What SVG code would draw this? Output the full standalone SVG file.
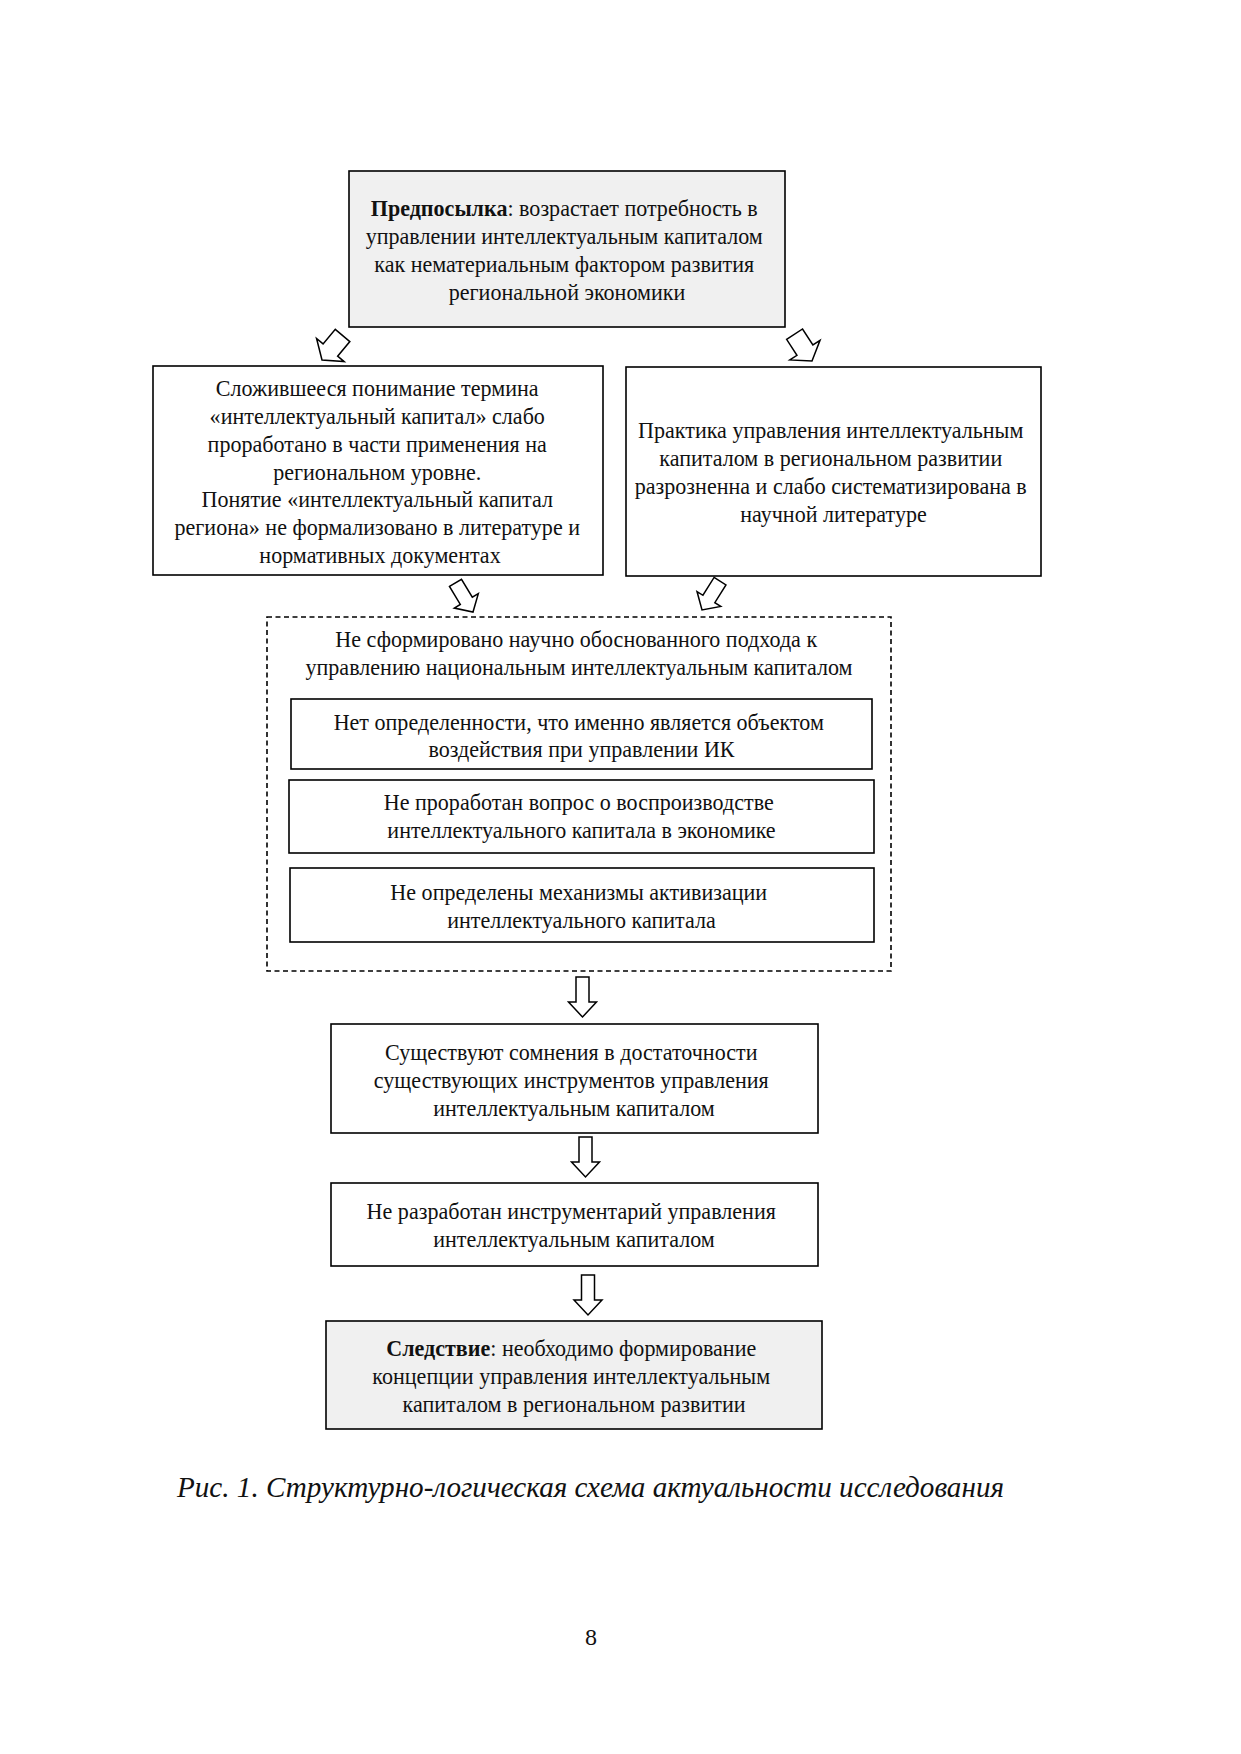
<svg xmlns="http://www.w3.org/2000/svg" width="1241" height="1754" viewBox="0 0 1241 1754">
<style>
.box{fill:#ffffff;stroke:#000;stroke-width:1.6}
.gray{fill:#f0f0f0;stroke:#000;stroke-width:1.6}
.dash{fill:none;stroke:#000;stroke-width:1.6;stroke-dasharray:5 3.5}
.t{font-family:"Liberation Serif","Times New Roman",serif;font-size:24px;fill:#111;text-anchor:middle}
.b{font-weight:bold}
.arr{fill:#fff;stroke:#000;stroke-width:1.5;stroke-linejoin:miter}
.cap{font-family:"Liberation Serif","Times New Roman",serif;font-size:29px;font-style:italic;fill:#111}
</style>
<defs>
<polygon id="big" points="-9.5,-32 9.5,-32 9.5,-13 18,-13 0,0 -18,-13 -9.5,-13"/>
<polygon id="mid" points="-7,-34 7,-34 7,-13 14,-13 0,0 -14,-13 -7,-13"/>
<polygon id="down" points="-6.5,-40 6.5,-40 6.5,-15 14,-15 0,0 -14,-15 -6.5,-15"/>
</defs>
<rect width="1241" height="1754" fill="#fff"/>

<g id="premise">
<rect class="gray" x="349" y="171" width="436" height="156"/>
<text class="t" transform="matrix(0.92 0 0 1 567 0)">
<tspan x="0" y="216"><tspan class="b">Предпосылка</tspan>: возрастает потребность в</tspan>
<tspan x="0" y="244">управлении интеллектуальным капиталом</tspan>
<tspan x="0" y="272">как нематериальным фактором развития</tspan>
<tspan x="0" y="300">региональной экономики</tspan>
</text>
</g>

<g id="understanding">
<rect class="box" x="153" y="366" width="450" height="209"/>
<text class="t" transform="matrix(0.92 0 0 1 380 0)">
<tspan x="0" y="396">Сложившееся понимание термина</tspan>
<tspan x="0" y="424">«интеллектуальный капитал» слабо</tspan>
<tspan x="0" y="452">проработано в части применения на</tspan>
<tspan x="0" y="480">региональном уровне.</tspan>
<tspan x="0" y="507">Понятие «интеллектуальный капитал</tspan>
<tspan x="0" y="535">региона» не формализовано в литературе и</tspan>
<tspan x="0" y="563">нормативных документах</tspan>
</text>
</g>

<g id="practice">
<rect class="box" x="626" y="367" width="415" height="209"/>
<text class="t" transform="matrix(0.92 0 0 1 833.5 0)">
<tspan x="0" y="438">Практика управления интеллектуальным</tspan>
<tspan x="0" y="466">капиталом в региональном развитии</tspan>
<tspan x="0" y="494">разрозненна и слабо систематизирована в</tspan>
<tspan x="0" y="522">научной литературе</tspan>
</text>
</g>

<g id="approach">
<rect class="dash" x="267" y="617" width="624" height="354"/>
<text class="t" transform="matrix(0.92 0 0 1 579 0)">
<tspan x="0" y="647">Не сформировано научно обоснованного подхода к</tspan>
<tspan x="0" y="675">управлению национальным интеллектуальным капиталом</tspan>
</text>
</g>

<g id="object">
<rect class="box" x="291" y="699" width="581" height="70"/>
<text class="t" transform="matrix(0.92 0 0 1 581.5 0)">
<tspan x="0" y="730">Нет определенности, что именно является объектом</tspan>
<tspan x="0" y="757">воздействия при управлении ИК</tspan>
</text>
</g>

<g id="reproduction">
<rect class="box" x="289" y="780" width="585" height="73"/>
<text class="t" transform="matrix(0.92 0 0 1 581.5 0)">
<tspan x="0" y="810">Не проработан вопрос о воспроизводстве</tspan>
<tspan x="0" y="838">интеллектуального капитала в экономике</tspan>
</text>
</g>

<g id="mechanisms">
<rect class="box" x="290" y="868" width="584" height="74"/>
<text class="t" transform="matrix(0.92 0 0 1 581.5 0)">
<tspan x="0" y="900">Не определены механизмы активизации</tspan>
<tspan x="0" y="928">интеллектуального капитала</tspan>
</text>
</g>

<g id="doubts">
<rect class="box" x="331" y="1024" width="487" height="109"/>
<text class="t" transform="matrix(0.92 0 0 1 574 0)">
<tspan x="0" y="1060">Существуют сомнения в достаточности</tspan>
<tspan x="0" y="1088">существующих инструментов управления</tspan>
<tspan x="0" y="1116">интеллектуальным капиталом</tspan>
</text>
</g>

<g id="toolkit">
<rect class="box" x="331" y="1183" width="487" height="83"/>
<text class="t" transform="matrix(0.92 0 0 1 574 0)">
<tspan x="0" y="1219">Не разработан инструментарий управления</tspan>
<tspan x="0" y="1247">интеллектуальным капиталом</tspan>
</text>
</g>

<g id="consequence">
<rect class="gray" x="326" y="1321" width="496" height="108"/>
<text class="t" transform="matrix(0.92 0 0 1 574 0)">
<tspan x="0" y="1356"><tspan class="b">Следствие</tspan>: необходимо формирование</tspan>
<tspan x="0" y="1384">концепции управления интеллектуальным</tspan>
<tspan x="0" y="1412">капиталом в региональном развитии</tspan>
</text>
</g>

<g id="connectors">
<use href="#big" class="arr" transform="translate(322,360) rotate(40)"/>
<use href="#big" class="arr" transform="translate(812,361) rotate(-33)"/>
<use href="#mid" class="arr" transform="translate(473,612) rotate(-31)"/>
<use href="#mid" class="arr" transform="translate(702,610) rotate(32)"/>
<use href="#down" class="arr" transform="translate(582.5,1017)"/>
<use href="#down" class="arr" transform="translate(585.5,1177)"/>
<use href="#down" class="arr" transform="translate(588,1315)"/>
</g>

<text class="cap" x="177" y="1497" textLength="827" lengthAdjust="spacingAndGlyphs">Рис. 1. Структурно-логическая схема актуальности исследования</text>
<text class="t" x="591" y="1645">8</text>
</svg>
